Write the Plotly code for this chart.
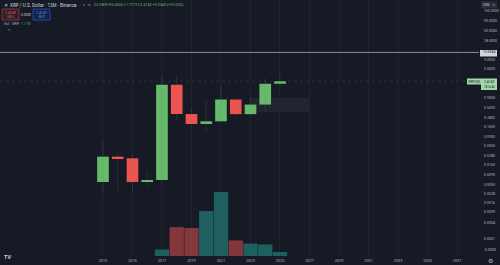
import plotly.graph_objects as go

# ---------------- data ----------------
years = [2013, 2014, 2015, 2016, 2017, 2018, 2019, 2020, 2021, 2022, 2023, 2024, 2025]
opens = [0.00573, 0.0265, 0.0240, 0.00573, 0.00648, 1.966, 0.340, 0.1876, 0.220, 0.81, 0.338, 0.60, 2.0809]
highs = [0.069, 0.040, 0.0305, 0.0117, 3.40, 3.55, 0.51, 0.78, 1.96, 0.91, 0.94, 2.90, 3.6606]
lows = [0.0029, 0.0035, 0.0032, 0.0044, 0.0055, 0.245, 0.175, 0.11, 0.21, 0.29, 0.30, 0.38, 1.7773]
closes = [0.0265, 0.0240, 0.00573, 0.00648, 1.966, 0.340, 0.1876, 0.220, 0.81, 0.338, 0.60, 2.0809, 2.4149]
volumes_b = [0.01, 0.01, 0.01, 0.01, 2.9, 12.8, 12.4, 19.9, 28.3, 6.9, 5.5, 5.1, 1.77]

x_ticks = [2013, 2015, 2017, 2019, 2021, 2023, 2025, 2027, 2029, 2031, 2033, 2035, 2037]
x_ticktext = [str(v) for v in x_ticks]
y_ticks = [160, 90, 50, 28, 9, 5, 0.9, 0.5, 0.28, 0.16, 0.09, 0.05, 0.028, 0.016,
           0.009, 0.005, 0.0028, 0.0016, 0.0009, 0.0004, 0.0001, 0.0]
y_ticktext = ["160.0000", "90.0000", "50.0000", "28.0000", "9.0000", "5.0000", "0.9000",
              "0.5000", "0.2800", "0.1600", "0.0900", "0.0500", "0.0280", "0.0160",
              "0.0090", "0.0050", "0.0028", "0.0016", "0.0009", "0.0004", "0.0001", "-0.0000"]
hline_price = 13.5584
last_price = 2.4149
zone_x = [2022.97, 2027.03]
zone_y = [0.384, 0.887]

OFF = 0.0001  # TradingView log-scale offset

BG = "#161a25"
GREEN = "#66bb6a"
RED = "#ef5350"
TXT = "#b2b5be"
FONT = "Roboto"

fig = go.Figure()

# volume bars (overlay axis)
vol_cols = ["rgba(38,166,154,0.5)" if c >= o else "rgba(239,83,80,0.5)" for o, c in zip(opens, closes)]
fig.add_trace(go.Bar(x=years, y=volumes_b, marker=dict(color=vol_cols, line=dict(width=0)),
                     width=0.97, yaxis="y2", hoverinfo="skip"))

# wicks
for up in (True, False):
    wx, wy = [], []
    for yr, o, h, l, c in zip(years, opens, highs, lows, closes):
        if (c >= o) == up:
            wx += [yr, yr, None]
            wy += [l + OFF, h + OFF, None]
    fig.add_trace(go.Scatter(x=wx, y=wy, mode="lines",
                             line=dict(color="rgba(120,123,134,0.35)", width=0.6),
                             hoverinfo="skip"))

# bodies
for up in (True, False):
    bx, bb, bh = [], [], []
    for yr, o, c in zip(years, opens, closes):
        if (c >= o) == up:
            lo = min(o, c)
            bx.append(yr)
            bb.append(lo + OFF)
            bh.append(abs(c - o))
    fig.add_trace(go.Bar(x=bx, y=bh, base=bb, width=0.79,
                         marker=dict(color=GREEN if up else RED, line=dict(width=0)),
                         hoverinfo="skip"))

# plot area in pixels
W, H = 500, 265
ML, MR, MT, MB = 0, 21, 0, 9
PW, PH = W - ML - MR, H - MT - MB


def px(x):
    return (x - ML) / PW


def py(y):
    return (PH + MT - y) / PH


shapes = []
# zone rectangle
shapes.append(dict(type="rect", xref="x", yref="y", x0=zone_x[0], x1=zone_x[1],
                   y0=zone_y[0] + OFF, y1=zone_y[1] + OFF,
                   fillcolor="rgba(120,123,134,0.12)", line=dict(width=0), layer="below"))
# horizontal line
shapes.append(dict(type="line", xref="paper", yref="y", x0=0, x1=1,
                   y0=hline_price + OFF, y1=hline_price + OFF,
                   line=dict(color="#8a8d96", width=1)))
# last price dotted line
shapes.append(dict(type="line", xref="paper", yref="y", x0=0, x1=1,
                   y0=last_price + OFF, y1=last_price + OFF,
                   line=dict(color="rgba(120,123,134,0.3)", width=0.7, dash="dot")))


def box(x0, y0, x1, y1, fill, border=None):
    shapes.append(dict(type="rect", xref="paper", yref="paper", x0=px(x0), x1=px(x1),
                       y0=py(y1), y1=py(y0), fillcolor=fill,
                       line=dict(color=border if border else fill, width=0.6 if border else 0)))


box(2, 9, 19, 20, "rgba(239,83,80,0.12)", "#c8403e")
box(33, 9, 50, 20, "rgba(41,98,255,0.12)", "#2962ff")
box(480, 50, 497, 56.5, "#d1d4dc")
box(467, 78.5, 481, 84.5, "#a5d6a7")
box(481, 78.5, 497, 90, "#a5d6a7")
box(481, 1.5, 497, 8.5, "#2a2e39")
fig.update_layout(shapes=shapes)

ann = []


def text(x, y, s, size=4.5, color=TXT, anchor="left"):
    ann.append(dict(xref="paper", yref="paper", x=px(x), y=py(y), text=s, showarrow=False,
                    xanchor=anchor, yanchor="middle",
                    font=dict(family=FONT, size=size, color=color)))


text(1.5, 5, "✕", 4.5, "#d1d4dc")
text(8, 5, "XRP / U.S. Dollar · 12M · Binance", 4.6, "#d1d4dc")
text(80.5, 5, "●", 3.5, "#26a69a")
text(85, 5, "◀", 3.5, "#9c27b0")
text(92, 5, "O2.0809 H3.6606 L1.7773 C2.4149 +0.3340 (+16.05%)", 3.7, GREEN)
text(10.5, 12.5, "2.4149", 3.5, RED, "center")
text(10.5, 17, "SELL", 3.2, RED, "center")
text(25.5, 14.5, "0.0000", 3.2, "#d1d4dc", "center")
text(41.5, 12.5, "2.4149", 3.5, "#5b8cff", "center")
text(41.5, 17, "BUY", 3.2, "#5b8cff", "center")
text(2, 24, "Vol · XRP", 3.7, TXT)
text(18.5, 24, "1.77B", 3.7, "#26a69a")
text(4.5, 31, "⌃", 4.5, TXT)
text(488.5, 51.5, "13.5584", 3.4, "#131722", "center")
text(474, 81.5, "XRPUSD", 3.2, "#131722", "center")
text(489, 81.5, "2.4149", 3.4, "#131722", "center")
text(489, 87, "161d 4h", 3.0, "#131722", "center")
text(486, 5, "USD", 3.4, "#d1d4dc", "center")
text(494, 5, "▾", 3.4, "#d1d4dc", "center")
text(2, 257, "<b>TV</b>", 5.5, "#d1d4dc")
text(490.5, 260.5, "⚙", 5.5, TXT, "center")

fig.update_layout(
    width=W, height=H,
    margin=dict(l=ML, r=MR, t=MT, b=MB, pad=0),
    paper_bgcolor=BG, plot_bgcolor=BG,
    showlegend=False, barmode="overlay", annotations=ann,
    xaxis=dict(range=[2006.02, 2038.49], tickvals=x_ticks, ticktext=x_ticktext,
               tickfont=dict(family=FONT, size=3.8, color=TXT),
               showgrid=True, gridcolor="#1f232e", gridwidth=1, zeroline=False,
               showline=False, ticks="", ticklabelstandoff=1, fixedrange=True),
    yaxis=dict(type="log", side="right", range=[-4.156, 2.494],
               tickvals=[v + OFF for v in y_ticks], ticktext=y_ticktext,
               tickfont=dict(family=FONT, size=3.6, color=TXT),
               showgrid=False, zeroline=False, showline=False, ticks="",
               ticklabelstandoff=4),
    yaxis2=dict(overlaying="y", range=[0, 113.3], visible=False, fixedrange=True),
)

fig.write_html("out.html")
